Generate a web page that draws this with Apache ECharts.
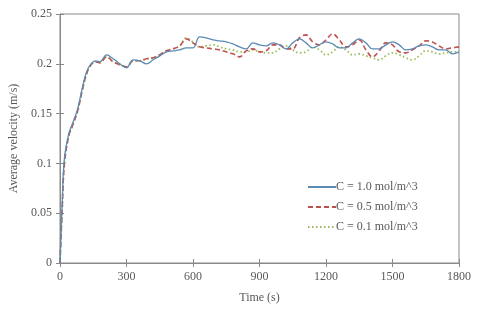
<!DOCTYPE html>
<html><head><meta charset="utf-8">
<script src="https://cdn.jsdelivr.net/npm/echarts@6/dist/echarts.min.js"></script>
<style>html,body{margin:0;padding:0;background:#fff}#c{width:480px;height:319px}</style>
</head><body><div id="c"></div>
<script>
const times = [0,10,20,40,60,80,100,120,140,160,180,210,240,270,300,330,360,390,420,450,480,510,540,570,600,630,660,690,720,750,780,810,840,870,900,930,960,990,1020,1050,1080,1110,1140,1170,1200,1230,1260,1290,1320,1350,1380,1410,1440,1470,1500,1530,1560,1590,1620,1650,1680,1710,1740,1770,1800];
const c10 = [0,0.06,0.105,0.13,0.142,0.155,0.175,0.192,0.2,0.203,0.202,0.209,0.205,0.2,0.196,0.204,0.203,0.2,0.204,0.208,0.212,0.213,0.214,0.216,0.216,0.227,0.226,0.224,0.223,0.222,0.22,0.217,0.215,0.221,0.219,0.218,0.221,0.219,0.215,0.221,0.225,0.221,0.216,0.219,0.222,0.22,0.216,0.216,0.221,0.225,0.221,0.215,0.215,0.219,0.222,0.219,0.214,0.215,0.218,0.219,0.217,0.214,0.214,0.21,0.212];
const c05 = [0,0.055,0.1,0.128,0.14,0.153,0.173,0.19,0.199,0.202,0.201,0.207,0.202,0.199,0.197,0.203,0.203,0.205,0.206,0.209,0.213,0.215,0.218,0.225,0.221,0.217,0.216,0.215,0.214,0.212,0.21,0.207,0.213,0.215,0.212,0.213,0.219,0.219,0.215,0.215,0.226,0.229,0.222,0.219,0.224,0.23,0.224,0.217,0.219,0.224,0.214,0.207,0.213,0.221,0.219,0.212,0.211,0.214,0.218,0.223,0.222,0.218,0.215,0.216,0.217];
const c01 = [0,0.055,0.1,0.128,0.14,0.153,0.173,0.19,0.199,0.202,0.201,0.207,0.202,0.199,0.197,0.203,0.203,0.205,0.206,0.209,0.213,0.215,0.218,0.226,0.222,0.217,0.218,0.219,0.217,0.215,0.214,0.212,0.212,0.214,0.212,0.211,0.211,0.215,0.218,0.214,0.211,0.212,0.217,0.214,0.209,0.212,0.217,0.214,0.209,0.21,0.208,0.206,0.204,0.208,0.211,0.209,0.206,0.204,0.208,0.213,0.212,0.21,0.211,0.212,0.212];
const seriesNames = ['C = 1.0 mol/m^3','C = 0.5 mol/m^3','C = 0.1 mol/m^3'];
const xTicks = [0,300,600,900,1200,1500,1800];
const yTicks = [0,0.05,0.1,0.15,0.2,0.25];

const font = 'Liberation Serif';
const txt = '#595959';
const axisCol = '#898989';
const pair = a => times.map((t,i)=>[t,a[i]]);
const styles = [
  {color:'#5b8ab5', type:'solid', width:1.3},
  {color:'#c0504d', type:[5,3], width:1.6},
  {color:'#9bbb59', type:[1.5,2.5], width:1.8}
];
const data = [c10,c05,c01];
const chart = echarts.init(document.getElementById('c'));
chart.setOption({
  animation:false,
  backgroundColor:'#fff',
  grid:{left:58,right:21,top:14,bottom:56,show:true,borderColor:axisCol,borderWidth:1,backgroundColor:'transparent'},
  legend:{orient:'vertical',left:302,top:176,itemWidth:28,itemHeight:8,itemGap:8,
    itemStyle:{opacity:0},
    textStyle:{fontFamily:font,fontSize:12,color:txt,padding:[0,0,0,-5]},
    data:seriesNames},
  xAxis:[{type:'value',min:0,max:1800,interval:300,
    name:'Time (s)',nameLocation:'middle',nameGap:29,nameTextStyle:{fontFamily:font,fontSize:12,color:txt},
    axisLine:{lineStyle:{color:axisCol}},axisTick:{show:true,length:4,lineStyle:{color:axisCol}},
    axisLabel:{fontFamily:font,fontSize:12,color:txt,margin:8,formatter:v=>xTicks.includes(v)?String(v):''},
    splitLine:{show:false}},
   {type:'value',min:0,max:1800,interval:300,position:'bottom',
    axisLine:{show:false},axisTick:{show:true,inside:true,length:4,lineStyle:{color:axisCol}},
    axisLabel:{show:false},splitLine:{show:false}}],
  yAxis:[{type:'value',min:0,max:0.25,interval:0.05,
    name:'Average velocity (m/s)',nameLocation:'middle',nameGap:40,nameTextStyle:{fontFamily:font,fontSize:12,color:txt},
    axisLine:{show:true,lineStyle:{color:axisCol}},axisTick:{show:true,length:4,lineStyle:{color:axisCol}},
    axisLabel:{fontFamily:font,fontSize:12,color:txt,margin:8,formatter:v=>{const m=yTicks.find(t=>Math.abs(t-v)<1e-9);return m===undefined?'':String(+m.toFixed(2));}},
    splitLine:{show:false}},
   {type:'value',min:0,max:0.25,interval:0.05,position:'left',
    axisLine:{show:false},axisTick:{show:true,inside:true,length:4,lineStyle:{color:axisCol}},
    axisLabel:{show:false},splitLine:{show:false}}],
  series:seriesNames.map((n,i)=>({name:n,type:'line',data:pair(data[i]),smooth:0.4,showSymbol:false,symbol:'none',
    lineStyle:styles[i],itemStyle:{color:styles[i].color},z:3-i}))
});
</script></body></html>
